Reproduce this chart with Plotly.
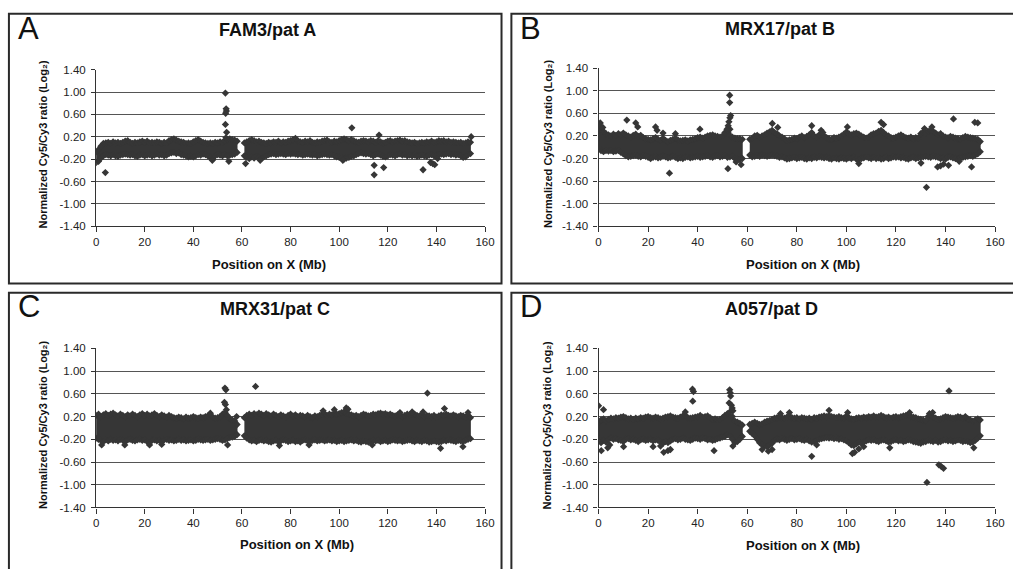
import plotly.graph_objects as go

# ---------------- data ----------------
POS_LEFT = [0, 1, 2, 3, 4, 5, 6, 7, 8, 9, 10, 11, 12, 13, 14, 15, 16, 17, 18, 19,
            20, 21, 22, 23, 24, 25, 26, 27, 28, 29, 30, 31, 32, 33, 34, 35, 36, 37, 38, 39,
            40, 41, 42, 43, 44, 45, 46, 47, 48, 49, 50, 51, 52, 53, 54, 55, 56, 57, 58]
POS_RIGHT = [61, 62, 63, 64, 65, 66, 67, 68, 69, 70, 71, 72, 73, 74, 75, 76, 77, 78, 79, 80,
             81, 82, 83, 84, 85, 86, 87, 88, 89, 90, 91, 92, 93, 94, 95, 96, 97, 98, 99, 100,
             101, 102, 103, 104, 105, 106, 107, 108, 109, 110, 111, 112, 113, 114, 115, 116, 117, 118, 119, 120,
             121, 122, 123, 124, 125, 126, 127, 128, 129, 130, 131, 132, 133, 134, 135, 136, 137, 138, 139, 140,
             141, 142, 143, 144, 145, 146, 147, 148, 149, 150, 151, 152, 153, 154]

X_TICKS = [0, 20, 40, 60, 80, 100, 120, 140, 160]
Y_TICKS = [-1.4, -1.0, -0.6, -0.2, 0.2, 0.6, 1.0, 1.4]
Y_TICK_LABELS = ["-1.40", "-1.00", "-0.60", "-0.20", "0.20", "0.60", "1.00", "1.40"]

# Panel A  FAM3/pat A : upper / lower edge of the dense band, and isolated points
A_TOP_LEFT = [-0.07, -0.03, 0.03, 0.08, 0.09, 0.10, 0.08, 0.11, 0.09, 0.10,
              0.08, 0.10, 0.12, 0.13, 0.10, 0.08, 0.10, 0.09, 0.11, 0.12,
              0.10, 0.12, 0.09, 0.10, 0.09, 0.11, 0.10, 0.08, 0.10, 0.09,
              0.13, 0.15, 0.16, 0.14, 0.12, 0.11, 0.10, 0.08, 0.09, 0.08,
              0.11, 0.13, 0.15, 0.12, 0.10, 0.09, 0.08, 0.09, 0.08, 0.10,
              0.09, 0.11, 0.10, 0.13, 0.15, 0.16, 0.15, 0.14, 0.12]
A_BOT_LEFT = [-0.26, -0.24, -0.18, -0.14, -0.12, -0.13, -0.14, -0.12, -0.14, -0.15,
              -0.13, -0.12, -0.11, -0.12, -0.13, -0.12, -0.14, -0.15, -0.13, -0.12,
              -0.14, -0.13, -0.12, -0.14, -0.13, -0.11, -0.13, -0.12, -0.14, -0.13,
              -0.10, -0.09, -0.08, -0.10, -0.09, -0.12, -0.13, -0.14, -0.16, -0.15,
              -0.16, -0.14, -0.12, -0.13, -0.11, -0.12, -0.14, -0.17, -0.20, -0.14,
              -0.12, -0.13, -0.14, -0.12, -0.14, -0.13, -0.12, -0.11, -0.08]
A_TOP_RIGHT = [0.09, 0.11, 0.13, 0.15, 0.13, 0.11, 0.12, 0.10, 0.09, 0.08,
               0.10, 0.09, 0.11, 0.10, 0.12, 0.09, 0.11, 0.10, 0.12, 0.13,
               0.15, 0.17, 0.13, 0.11, 0.10, 0.12, 0.11, 0.13, 0.10, 0.09,
               0.11, 0.10, 0.12, 0.13, 0.14, 0.11, 0.10, 0.12, 0.11, 0.13,
               0.15, 0.16, 0.15, 0.13, 0.15, 0.13, 0.11, 0.10, 0.12, 0.13,
               0.12, 0.11, 0.13, 0.12, 0.10, 0.13, 0.11, 0.09, 0.10, 0.12,
               0.13, 0.11, 0.12, 0.13, 0.14, 0.12, 0.13, 0.11, 0.10, 0.09,
               0.10, 0.08, 0.09, 0.10, 0.09, 0.11, 0.10, 0.12, 0.10, 0.11,
               0.13, 0.12, 0.13, 0.11, 0.12, 0.10, 0.11, 0.10, 0.09, 0.10,
               0.08, 0.09, 0.11, 0.10]
A_BOT_RIGHT = [-0.14, -0.17, -0.19, -0.16, -0.18, -0.15, -0.17, -0.19, -0.16, -0.14,
               -0.12, -0.11, -0.10, -0.12, -0.11, -0.10, -0.11, -0.12, -0.10, -0.11,
               -0.10, -0.11, -0.12, -0.11, -0.13, -0.12, -0.11, -0.12, -0.13, -0.12,
               -0.14, -0.13, -0.12, -0.11, -0.12, -0.13, -0.12, -0.14, -0.16, -0.17,
               -0.18, -0.20, -0.18, -0.17, -0.15, -0.14, -0.12, -0.10, -0.09, -0.10,
               -0.11, -0.10, -0.12, -0.14, -0.12, -0.11, -0.13, -0.15, -0.16, -0.14,
               -0.12, -0.13, -0.14, -0.12, -0.11, -0.13, -0.12, -0.14, -0.13, -0.14,
               -0.13, -0.15, -0.14, -0.13, -0.14, -0.15, -0.13, -0.12, -0.14, -0.13,
               -0.12, -0.11, -0.12, -0.11, -0.10, -0.12, -0.11, -0.13, -0.12, -0.14,
               -0.17, -0.16, -0.12, -0.10]
A_OUT_X = [3.8, 47.8, 53.2, 53.5, 53.6, 53.3, 53.2, 53.7, 53.4, 54.6, 61.5, 67.5,
           101.5, 105.2, 114.4, 114.4, 116.4, 118.3, 134.5, 137.6, 138.5, 139.3, 140.5, 154.3]
A_OUT_Y = [-0.44, -0.22, 0.98, 0.70, 0.66, 0.62, 0.42, 0.28, 0.18, -0.24, -0.28, -0.22,
           -0.22, 0.36, -0.31, -0.48, 0.23, -0.35, -0.39, -0.26, -0.28, -0.30, -0.19, 0.20]

# Panel B  MRX17/pat B
B_TOP_LEFT = [0.30, 0.36, 0.28, 0.24, 0.22, 0.20, 0.23, 0.21, 0.24, 0.22,
              0.25, 0.22, 0.20, 0.18, 0.21, 0.23, 0.19, 0.21, 0.17, 0.15,
              0.14, 0.13, 0.15, 0.17, 0.14, 0.12, 0.16, 0.12, 0.10, 0.12,
              0.14, 0.16, 0.13, 0.11, 0.12, 0.13, 0.11, 0.13, 0.14, 0.15,
              0.17, 0.18, 0.16, 0.18, 0.20, 0.21, 0.22, 0.20, 0.19, 0.18,
              0.20, 0.26, 0.30, 0.32, 0.18, 0.16, 0.15, 0.15, 0.14]
B_BOT_LEFT = [-0.03, -0.06, -0.08, -0.06, -0.07, -0.06, -0.08, -0.07, -0.06, -0.09,
              -0.12, -0.15, -0.17, -0.16, -0.15, -0.14, -0.16, -0.17, -0.15, -0.16,
              -0.18, -0.20, -0.18, -0.17, -0.19, -0.18, -0.16, -0.17, -0.19, -0.18,
              -0.16, -0.18, -0.20, -0.19, -0.20, -0.18, -0.17, -0.19, -0.18, -0.17,
              -0.16, -0.18, -0.17, -0.16, -0.15, -0.17, -0.18, -0.16, -0.15, -0.17,
              -0.16, -0.15, -0.18, -0.17, -0.16, -0.20, -0.21, -0.22, -0.20]
B_TOP_RIGHT = [0.14, 0.16, 0.20, 0.21, 0.18, 0.20, 0.22, 0.25, 0.27, 0.30,
               0.26, 0.24, 0.20, 0.18, 0.15, 0.12, 0.13, 0.14, 0.16, 0.15,
               0.18, 0.20, 0.17, 0.19, 0.22, 0.26, 0.20, 0.18, 0.22, 0.24,
               0.20, 0.17, 0.15, 0.14, 0.17, 0.16, 0.18, 0.20, 0.23, 0.27,
               0.24, 0.22, 0.24, 0.25, 0.23, 0.20, 0.18, 0.16, 0.18, 0.22,
               0.24, 0.25, 0.28, 0.30, 0.26, 0.22, 0.20, 0.17, 0.16, 0.18,
               0.20, 0.22, 0.19, 0.17, 0.16, 0.18, 0.15, 0.17, 0.16, 0.24,
               0.27, 0.25, 0.28, 0.30, 0.28, 0.25, 0.22, 0.24, 0.20, 0.18,
               0.17, 0.19, 0.18, 0.16, 0.15, 0.14, 0.17, 0.19, 0.18, 0.17,
               0.16, 0.15, 0.14, 0.10]
B_BOT_RIGHT = [-0.14, -0.17, -0.16, -0.15, -0.16, -0.14, -0.15, -0.16, -0.15, -0.14,
               -0.15, -0.16, -0.18, -0.17, -0.19, -0.21, -0.20, -0.19, -0.18, -0.20,
               -0.19, -0.18, -0.20, -0.21, -0.19, -0.20, -0.18, -0.19, -0.17, -0.18,
               -0.19, -0.18, -0.20, -0.21, -0.19, -0.20, -0.21, -0.19, -0.20, -0.21,
               -0.19, -0.20, -0.18, -0.21, -0.22, -0.20, -0.19, -0.17, -0.19, -0.20,
               -0.18, -0.20, -0.19, -0.21, -0.20, -0.18, -0.20, -0.19, -0.17, -0.18,
               -0.17, -0.19, -0.18, -0.20, -0.21, -0.19, -0.18, -0.20, -0.19, -0.18,
               -0.17, -0.16, -0.17, -0.18, -0.16, -0.17, -0.18, -0.20, -0.19, -0.21,
               -0.18, -0.17, -0.19, -0.20, -0.21, -0.19, -0.18, -0.17, -0.16, -0.15,
               -0.16, -0.14, -0.12, -0.08]
B_OUT_X = [0.0, 0.7, 1.7, 11.4, 15.0, 15.8, 23.0, 23.6, 26.0, 28.6, 31.0, 40.9,
           52.9, 52.9, 53.3, 53.0, 52.6, 52.3, 51.8, 52.2, 55.5, 57.5, 70.1, 72.3,
           86.0, 89.8, 90.5, 100.4, 105.0, 114.0, 115.0, 130.1, 131.5, 132.3, 134.5, 136.8,
           138.0, 139.2, 141.2, 143.2, 145.5, 150.5, 151.8, 153.0]
B_OUT_Y = [0.00, 0.43, 0.35, 0.48, 0.43, 0.36, 0.36, 0.30, 0.25, -0.46, 0.24, 0.32,
           0.92, 0.79, 0.56, 0.52, 0.45, 0.38, 0.32, -0.38, -0.26, -0.31, 0.42, 0.35,
           0.38, 0.30, 0.26, 0.36, -0.29, 0.44, 0.40, -0.28, 0.33, -0.71, 0.36, -0.35,
           -0.33, -0.30, -0.32, 0.50, -0.25, -0.35, 0.44, 0.43]

# Panel C  MRX31/pat C
C_TOP_LEFT = [0.22, 0.24, 0.20, 0.23, 0.25, 0.22, 0.24, 0.26, 0.23, 0.21,
              0.24, 0.22, 0.20, 0.23, 0.21, 0.24, 0.22, 0.20, 0.23, 0.25,
              0.22, 0.24, 0.21, 0.23, 0.25, 0.22, 0.20, 0.23, 0.21, 0.19,
              0.22, 0.20, 0.18, 0.17, 0.19, 0.18, 0.16, 0.19, 0.17, 0.18,
              0.20, 0.18, 0.17, 0.19, 0.18, 0.20, 0.21, 0.22, 0.19, 0.17,
              0.18, 0.20, 0.24, 0.27, 0.22, 0.16, 0.14, 0.12, 0.06]
C_BOT_LEFT = [-0.18, -0.20, -0.22, -0.24, -0.21, -0.23, -0.20, -0.22, -0.21, -0.23,
              -0.20, -0.22, -0.24, -0.21, -0.20, -0.22, -0.23, -0.21, -0.20, -0.22,
              -0.21, -0.24, -0.25, -0.22, -0.21, -0.23, -0.22, -0.24, -0.21, -0.20,
              -0.22, -0.21, -0.23, -0.22, -0.20, -0.22, -0.21, -0.23, -0.22, -0.21,
              -0.23, -0.22, -0.20, -0.21, -0.22, -0.21, -0.20, -0.22, -0.21, -0.20,
              -0.19, -0.20, -0.22, -0.21, -0.19, -0.17, -0.16, -0.15, -0.12]
C_TOP_RIGHT = [0.18, 0.22, 0.24, 0.22, 0.25, 0.23, 0.26, 0.24, 0.22, 0.25,
               0.23, 0.21, 0.24, 0.22, 0.20, 0.23, 0.21, 0.19, 0.22, 0.24,
               0.21, 0.23, 0.20, 0.22, 0.21, 0.19, 0.22, 0.20, 0.18, 0.21,
               0.20, 0.22, 0.24, 0.25, 0.22, 0.24, 0.23, 0.26, 0.24, 0.25,
               0.27, 0.28, 0.26, 0.24, 0.23, 0.21, 0.22, 0.20, 0.22, 0.24,
               0.23, 0.21, 0.22, 0.24, 0.23, 0.25, 0.26, 0.24, 0.25, 0.23,
               0.24, 0.22, 0.21, 0.23, 0.22, 0.20, 0.22, 0.24, 0.23, 0.25,
               0.24, 0.22, 0.21, 0.23, 0.20, 0.22, 0.21, 0.20, 0.22, 0.19,
               0.21, 0.23, 0.22, 0.24, 0.22, 0.21, 0.23, 0.21, 0.20, 0.22,
               0.21, 0.19, 0.22, 0.18]
C_BOT_RIGHT = [-0.14, -0.18, -0.21, -0.23, -0.22, -0.24, -0.22, -0.21, -0.23, -0.22,
               -0.24, -0.25, -0.23, -0.22, -0.24, -0.23, -0.21, -0.22, -0.24, -0.23,
               -0.22, -0.24, -0.23, -0.25, -0.22, -0.21, -0.23, -0.24, -0.22, -0.21,
               -0.23, -0.22, -0.21, -0.23, -0.22, -0.21, -0.23, -0.22, -0.24, -0.23,
               -0.22, -0.24, -0.23, -0.22, -0.21, -0.23, -0.22, -0.24, -0.25, -0.23,
               -0.24, -0.25, -0.24, -0.22, -0.23, -0.22, -0.24, -0.23, -0.22, -0.24,
               -0.23, -0.21, -0.22, -0.23, -0.22, -0.24, -0.23, -0.22, -0.21, -0.23,
               -0.24, -0.22, -0.23, -0.24, -0.22, -0.23, -0.25, -0.24, -0.23, -0.24,
               -0.25, -0.24, -0.22, -0.23, -0.21, -0.22, -0.23, -0.24, -0.22, -0.23,
               -0.24, -0.22, -0.20, -0.19]
C_OUT_X = [1.0, 2.3, 11.8, 22.0, 27.0, 47.0, 53.0, 53.4, 52.8, 53.2, 53.6, 54.1, 57.8,
           65.6, 75.4, 87.6, 93.4, 98.0, 102.9, 103.6, 113.6, 125.0, 130.0, 134.5, 136.3,
           141.7, 143.3, 150.9, 153.0]
C_OUT_Y = [-0.18, -0.30, -0.30, -0.30, -0.29, 0.26, 0.70, 0.67, 0.45, 0.41, 0.32, -0.30, 0.20,
           0.73, -0.31, -0.30, 0.30, 0.32, 0.35, 0.33, -0.30, 0.27, 0.28, 0.28, 0.61,
           -0.36, 0.34, -0.33, 0.27]

# Panel D  A057/pat D
D_TOP_LEFT = [0.10, 0.14, 0.16, 0.13, 0.15, 0.17, 0.16, 0.18, 0.17, 0.19,
              0.20, 0.18, 0.16, 0.17, 0.15, 0.17, 0.16, 0.18, 0.17, 0.19,
              0.20, 0.18, 0.17, 0.19, 0.18, 0.16, 0.17, 0.19, 0.20, 0.21,
              0.19, 0.18, 0.17, 0.19, 0.21, 0.22, 0.18, 0.17, 0.18, 0.19,
              0.20, 0.22, 0.19, 0.20, 0.21, 0.18, 0.15, 0.16, 0.14, 0.15,
              0.18, 0.22, 0.25, 0.28, 0.20, 0.12, 0.10, 0.08, 0.05]
D_BOT_LEFT = [-0.18, -0.26, -0.22, -0.25, -0.20, -0.18, -0.20, -0.19, -0.21, -0.22,
              -0.24, -0.20, -0.19, -0.21, -0.20, -0.22, -0.24, -0.21, -0.20, -0.22,
              -0.21, -0.20, -0.23, -0.21, -0.22, -0.25, -0.27, -0.24, -0.26, -0.23,
              -0.20, -0.19, -0.21, -0.20, -0.18, -0.20, -0.21, -0.22, -0.20, -0.18,
              -0.19, -0.20, -0.18, -0.19, -0.21, -0.20, -0.22, -0.21, -0.19, -0.18,
              -0.16, -0.15, -0.12, -0.14, -0.20, -0.26, -0.24, -0.20, -0.15]
D_TOP_RIGHT = [0.06, 0.08, 0.10, 0.08, 0.06, 0.07, 0.10, 0.12, 0.13, 0.15,
               0.17, 0.18, 0.20, 0.18, 0.17, 0.19, 0.21, 0.18, 0.17, 0.18,
               0.16, 0.18, 0.17, 0.16, 0.17, 0.15, 0.18, 0.17, 0.19, 0.20,
               0.21, 0.20, 0.22, 0.20, 0.19, 0.18, 0.20, 0.18, 0.17, 0.21,
               0.18, 0.16, 0.15, 0.17, 0.18, 0.17, 0.19, 0.18, 0.20, 0.19,
               0.21, 0.19, 0.20, 0.22, 0.20, 0.18, 0.19, 0.17, 0.19, 0.20,
               0.18, 0.20, 0.21, 0.22, 0.23, 0.20, 0.19, 0.18, 0.16, 0.15,
               0.14, 0.13, 0.20, 0.22, 0.19, 0.17, 0.15, 0.16, 0.18, 0.20,
               0.19, 0.18, 0.17, 0.18, 0.20, 0.19, 0.17, 0.18, 0.16, 0.14,
               0.12, 0.14, 0.16, 0.14]
D_BOT_RIGHT = [-0.06, -0.10, -0.14, -0.20, -0.26, -0.30, -0.32, -0.33, -0.30, -0.27,
               -0.22, -0.20, -0.21, -0.19, -0.20, -0.22, -0.20, -0.19, -0.21, -0.20,
               -0.19, -0.21, -0.22, -0.20, -0.23, -0.25, -0.24, -0.22, -0.20, -0.19,
               -0.18, -0.17, -0.18, -0.17, -0.19, -0.18, -0.20, -0.19, -0.21, -0.23,
               -0.26, -0.30, -0.31, -0.28, -0.25, -0.27, -0.25, -0.23, -0.21, -0.22,
               -0.21, -0.23, -0.24, -0.22, -0.21, -0.23, -0.25, -0.24, -0.22, -0.21,
               -0.23, -0.22, -0.24, -0.23, -0.21, -0.22, -0.24, -0.25, -0.26, -0.27,
               -0.25, -0.24, -0.22, -0.23, -0.24, -0.22, -0.25, -0.24, -0.22, -0.21,
               -0.23, -0.22, -0.24, -0.23, -0.21, -0.22, -0.24, -0.23, -0.24, -0.26,
               -0.25, -0.22, -0.18, -0.14]
D_OUT_X = [0.0, 2.0, 1.1, 3.7, 4.5, 10.1, 22.0, 25.0, 26.3, 28.0, 29.0, 35.0,
           37.9, 38.3, 38.0, 46.6, 52.9, 53.1, 53.3, 52.7, 53.6, 53.9, 54.2, 54.2,
           66.0, 68.5, 70.0, 73.4, 77.0, 86.0, 88.0, 93.0, 100.5, 102.4, 103.3, 105.0,
           107.0, 117.5, 125.5, 132.5, 133.5, 134.8, 137.3, 138.3, 139.2, 141.4, 148.0, 151.4]
D_OUT_Y = [0.39, 0.32, -0.40, -0.35, -0.30, -0.33, -0.33, -0.32, -0.43, -0.40, -0.38, 0.28,
           0.68, 0.64, 0.47, -0.40, 0.67, 0.62, 0.56, 0.44, 0.40, 0.35, 0.30, -0.32,
           -0.38, -0.41, -0.38, 0.25, 0.27, -0.50, -0.30, 0.31, 0.27, -0.45, -0.43, -0.37,
           -0.33, -0.35, 0.27, -0.96, 0.25, 0.27, -0.65, -0.68, -0.71, 0.65, 0.20, -0.35]

PANEL_TITLES = ["FAM3/pat A", "MRX17/pat B", "MRX31/pat C", "A057/pat D"]
PANEL_LETTERS = ["A", "B", "C", "D"]
X_TITLE = "Position on X (Mb)"
Y_TITLE = "Normalized Cy5/Cy3 ratio (Log\u2082)"

# ---------------- figure ----------------
W, H = 1013, 569
FONT = "Liberation Sans, Arial, Helvetica, sans-serif"
DOT = "#363636"


def px(x):
    return x / W


def py(y):
    return 1 - y / H


panels = [
    dict(top_l=A_TOP_LEFT, bot_l=A_BOT_LEFT, top_r=A_TOP_RIGHT, bot_r=A_BOT_RIGHT,
         ox=A_OUT_X, oy=A_OUT_Y, xd=(94.3, 488.3), yd=(65.0, 225.0),
         letter=(26, 23), title=(268, 25), ytitle=(41, 141), xtitle=(269, 264.5),
         box=(6, 8, 505, 283.5)),
    dict(top_l=B_TOP_LEFT, bot_l=B_BOT_LEFT, top_r=B_TOP_RIGHT, bot_r=B_BOT_RIGHT,
         ox=B_OUT_X, oy=B_OUT_Y, xd=(603.3, 1005.0), yd=(63.5, 225.0),
         letter=(534.5, 23), title=(787, 24), ytitle=(551.5, 140.5), xtitle=(810, 264.5),
         box=(515, 8, 1030, 283.5)),
    dict(top_l=C_TOP_LEFT, bot_l=C_BOT_LEFT, top_r=C_TOP_RIGHT, bot_r=C_BOT_RIGHT,
         ox=C_OUT_X, oy=C_OUT_Y, xd=(94.3, 488.3), yd=(349.7, 512.3),
         letter=(26, 307), title=(275.3, 310), ytitle=(41, 427.5), xtitle=(298, 550.5),
         box=(6, 293, 505, 590)),
    dict(top_l=D_TOP_LEFT, bot_l=D_BOT_LEFT, top_r=D_TOP_RIGHT, bot_r=D_BOT_RIGHT,
         ox=D_OUT_X, oy=D_OUT_Y, xd=(603.3, 1005.0), yd=(349.7, 512.3),
         letter=(534.5, 307), title=(778.5, 310), ytitle=(551.5, 428), xtitle=(810, 551),
         box=(515, 293, 1030, 590)),
]

fig = go.Figure()
annotations = []
shapes = []
layout_axes = {}

for i, p in enumerate(panels):
    n = i + 1
    xa = "x" if n == 1 else f"x{n}"
    ya = "y" if n == 1 else f"y{n}"
    # dense band: filled between upper and lower edges, segment by segment
    for pos, top, bot in ((POS_LEFT, p["top_l"], p["bot_l"]), (POS_RIGHT, p["top_r"], p["bot_r"])):
        fig.add_trace(go.Scatter(
            x=list(pos) + list(pos)[::-1], y=list(top) + list(bot)[::-1],
            mode="lines", fill="toself", fillcolor=DOT,
            line=dict(color=DOT, width=0.8), hoverinfo="skip",
            xaxis=xa, yaxis=ya, showlegend=False))
    # diamond markers: band edges and isolated probes
    mx = POS_LEFT + POS_LEFT + POS_RIGHT + POS_RIGHT + p["ox"]
    my = p["top_l"] + p["bot_l"] + p["top_r"] + p["bot_r"] + p["oy"]
    fig.add_trace(go.Scatter(
        x=mx, y=my, mode="markers",
        marker=dict(symbol="diamond", size=5.6, color=DOT, line=dict(width=0)),
        xaxis=xa, yaxis=ya, showlegend=False, hoverinfo="x+y"))

    xkey = "xaxis" if n == 1 else f"xaxis{n}"
    ykey = "yaxis" if n == 1 else f"yaxis{n}"
    layout_axes[xkey] = dict(
        domain=[px(p["xd"][0]), px(p["xd"][1])], anchor=ya, range=[0, 160],
        tickmode="array", tickvals=X_TICKS, ticks="outside", ticklen=5, tickwidth=1,
        tickcolor="#333", showline=True, linecolor="#333", linewidth=1.2,
        showgrid=False, zeroline=False, ticklabelstandoff=0,
        tickfont=dict(family=FONT, size=11.5, color="#222"), fixedrange=True)
    layout_axes[ykey] = dict(
        domain=[py(p["yd"][1]), py(p["yd"][0])], anchor=xa, range=[-1.4, 1.4],
        tickmode="array", tickvals=Y_TICKS, ticktext=Y_TICK_LABELS,
        ticks="outside", ticklen=4, tickwidth=1, tickcolor="#333",
        showline=True, linecolor="#333", linewidth=1.2, ticklabelstandoff=3,
        showgrid=True, gridcolor="#555555", gridwidth=1.4, zeroline=False,
        tickfont=dict(family=FONT, size=11.5, color="#222"), fixedrange=True)

    annotations.append(dict(text=PANEL_LETTERS[i], x=px(p["letter"][0]), y=py(p["letter"][1]),
                            xref="paper", yref="paper", xanchor="center", yanchor="middle",
                            showarrow=False, font=dict(family=FONT, size=31, color="#111")))
    annotations.append(dict(text=PANEL_TITLES[i], x=px(p["title"][0]), y=py(p["title"][1]),
                            xref="paper", yref="paper", xanchor="center", yanchor="middle",
                            showarrow=False,
                            font=dict(family=FONT, size=18, color="#111", weight="bold")))
    annotations.append(dict(text=X_TITLE, x=px(p["xtitle"][0]), y=py(p["xtitle"][1]),
                            xref="paper", yref="paper", xanchor="center", yanchor="middle",
                            showarrow=False,
                            font=dict(family=FONT, size=13, color="#111", weight="bold")))
    annotations.append(dict(text=Y_TITLE, x=px(p["ytitle"][0]), y=py(p["ytitle"][1]),
                            xref="paper", yref="paper", xanchor="center", yanchor="middle",
                            textangle=-90, showarrow=False,
                            font=dict(family=FONT, size=11, color="#111", weight="bold")))
    bx0, by0, bx1, by1 = p["box"]
    shapes.append(dict(type="rect", xref="paper", yref="paper",
                       x0=px(bx0), x1=px(bx1), y0=py(by1), y1=py(by0),
                       line=dict(color="#2a2a2a", width=2), fillcolor="rgba(0,0,0,0)"))

fig.update_layout(
    width=W, height=H, margin=dict(l=0, r=0, t=0, b=0),
    paper_bgcolor="white", plot_bgcolor="white", showlegend=False,
    annotations=annotations, shapes=shapes, **layout_axes)

# the page's default 8px body margin would push the fixed-size figure off the window
fig.write_html("out.html", config={"displayModeBar": False},
               post_script="document.body.style.margin='0';document.body.style.overflow='hidden';")
